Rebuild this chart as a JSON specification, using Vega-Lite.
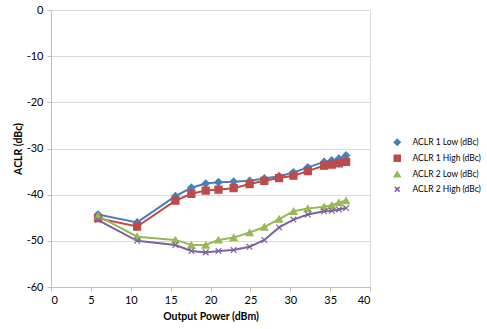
{
  "$schema": "https://vega.github.io/schema/vega-lite/v6.json",
  "width": 319,
  "height": 277,
  "autosize": "none",
  "padding": {"left": 51, "top": 10, "right": 117, "bottom": 42},
  "background": "white",
  "config": {
    "font": "Lato",
    "view": {"stroke": "#d9d9d9", "strokeWidth": 1},
    "axis": {"labelFont": "Lato", "titleFont": "Lato", "labelFontSize": 11, "titleFontSize": 10.5, "labelColor": "#000", "titleColor": "#000", "domainColor": "#bfbfbf", "tickColor": "#bfbfbf", "gridColor": "#d9d9d9"},
    "legend": {"labelFont": "Lato", "labelFontSize": 8.5, "labelColor": "#000", "orient": "none", "legendX": 342, "legendY": 128, "title": null, "symbolSize": 36, "rowPadding": 3, "labelOffset": 11, "symbolStrokeWidth": 1.5}
  },
  "data": {
    "values": [
      {"p": 5.9, "v": -44.3, "s": "ACLR 1 Low (dBc)"},
      {"p": 10.8, "v": -46.0, "s": "ACLR 1 Low (dBc)"},
      {"p": 15.6, "v": -40.3, "s": "ACLR 1 Low (dBc)"},
      {"p": 17.6, "v": -38.5, "s": "ACLR 1 Low (dBc)"},
      {"p": 19.4, "v": -37.6, "s": "ACLR 1 Low (dBc)"},
      {"p": 21.0, "v": -37.3, "s": "ACLR 1 Low (dBc)"},
      {"p": 22.9, "v": -37.2, "s": "ACLR 1 Low (dBc)"},
      {"p": 24.9, "v": -37.0, "s": "ACLR 1 Low (dBc)"},
      {"p": 26.75, "v": -36.5, "s": "ACLR 1 Low (dBc)"},
      {"p": 28.6, "v": -36.0, "s": "ACLR 1 Low (dBc)"},
      {"p": 30.4, "v": -35.2, "s": "ACLR 1 Low (dBc)"},
      {"p": 32.2, "v": -34.1, "s": "ACLR 1 Low (dBc)"},
      {"p": 34.25, "v": -32.9, "s": "ACLR 1 Low (dBc)"},
      {"p": 35.2, "v": -32.6, "s": "ACLR 1 Low (dBc)"},
      {"p": 36.1, "v": -32.2, "s": "ACLR 1 Low (dBc)"},
      {"p": 37.0, "v": -31.5, "s": "ACLR 1 Low (dBc)"},
      {"p": 5.9, "v": -45.1, "s": "ACLR 1 High (dBc)"},
      {"p": 10.8, "v": -46.9, "s": "ACLR 1 High (dBc)"},
      {"p": 15.6, "v": -41.3, "s": "ACLR 1 High (dBc)"},
      {"p": 17.6, "v": -39.8, "s": "ACLR 1 High (dBc)"},
      {"p": 19.4, "v": -39.1, "s": "ACLR 1 High (dBc)"},
      {"p": 21.0, "v": -38.9, "s": "ACLR 1 High (dBc)"},
      {"p": 22.9, "v": -38.6, "s": "ACLR 1 High (dBc)"},
      {"p": 24.9, "v": -37.7, "s": "ACLR 1 High (dBc)"},
      {"p": 26.75, "v": -37.0, "s": "ACLR 1 High (dBc)"},
      {"p": 28.6, "v": -36.4, "s": "ACLR 1 High (dBc)"},
      {"p": 30.4, "v": -35.9, "s": "ACLR 1 High (dBc)"},
      {"p": 32.2, "v": -34.9, "s": "ACLR 1 High (dBc)"},
      {"p": 34.25, "v": -33.7, "s": "ACLR 1 High (dBc)"},
      {"p": 35.2, "v": -33.5, "s": "ACLR 1 High (dBc)"},
      {"p": 36.1, "v": -33.2, "s": "ACLR 1 High (dBc)"},
      {"p": 37.0, "v": -32.9, "s": "ACLR 1 High (dBc)"},
      {"p": 5.9, "v": -44.6, "s": "ACLR 2 Low (dBc)"},
      {"p": 10.8, "v": -49.1, "s": "ACLR 2 Low (dBc)"},
      {"p": 15.6, "v": -49.8, "s": "ACLR 2 Low (dBc)"},
      {"p": 17.6, "v": -50.9, "s": "ACLR 2 Low (dBc)"},
      {"p": 19.4, "v": -50.9, "s": "ACLR 2 Low (dBc)"},
      {"p": 21.0, "v": -49.8, "s": "ACLR 2 Low (dBc)"},
      {"p": 22.9, "v": -49.3, "s": "ACLR 2 Low (dBc)"},
      {"p": 24.9, "v": -48.2, "s": "ACLR 2 Low (dBc)"},
      {"p": 26.75, "v": -47.0, "s": "ACLR 2 Low (dBc)"},
      {"p": 28.6, "v": -45.3, "s": "ACLR 2 Low (dBc)"},
      {"p": 30.4, "v": -43.6, "s": "ACLR 2 Low (dBc)"},
      {"p": 32.2, "v": -43.0, "s": "ACLR 2 Low (dBc)"},
      {"p": 34.25, "v": -42.6, "s": "ACLR 2 Low (dBc)"},
      {"p": 35.2, "v": -42.3, "s": "ACLR 2 Low (dBc)"},
      {"p": 36.1, "v": -41.7, "s": "ACLR 2 Low (dBc)"},
      {"p": 37.0, "v": -41.3, "s": "ACLR 2 Low (dBc)"},
      {"p": 5.9, "v": -45.5, "s": "ACLR 2 High (dBc)"},
      {"p": 10.8, "v": -50.0, "s": "ACLR 2 High (dBc)"},
      {"p": 15.6, "v": -50.9, "s": "ACLR 2 High (dBc)"},
      {"p": 17.6, "v": -52.2, "s": "ACLR 2 High (dBc)"},
      {"p": 19.4, "v": -52.5, "s": "ACLR 2 High (dBc)"},
      {"p": 21.0, "v": -52.2, "s": "ACLR 2 High (dBc)"},
      {"p": 22.9, "v": -52.0, "s": "ACLR 2 High (dBc)"},
      {"p": 24.9, "v": -51.3, "s": "ACLR 2 High (dBc)"},
      {"p": 26.75, "v": -49.8, "s": "ACLR 2 High (dBc)"},
      {"p": 28.6, "v": -47.1, "s": "ACLR 2 High (dBc)"},
      {"p": 30.4, "v": -45.4, "s": "ACLR 2 High (dBc)"},
      {"p": 32.2, "v": -44.3, "s": "ACLR 2 High (dBc)"},
      {"p": 34.25, "v": -43.6, "s": "ACLR 2 High (dBc)"},
      {"p": 35.2, "v": -43.5, "s": "ACLR 2 High (dBc)"},
      {"p": 36.1, "v": -43.2, "s": "ACLR 2 High (dBc)"},
      {"p": 37.0, "v": -42.9, "s": "ACLR 2 High (dBc)"}
    ]
  },
  "encoding": {
    "x": {"field": "p", "type": "quantitative", "scale": {"domain": [0, 40], "nice": false, "zero": false},
      "axis": {"values": [0, 5, 10, 15, 20, 25, 30, 35, 40], "labelExpr": "'' + datum.value", "grid": false, "title": "Output Power (dBm)", "titleFontWeight": "bold", "tickSize": 4, "labelPadding": 3, "titlePadding": 6}},
    "y": {"field": "v", "type": "quantitative", "scale": {"domain": [-60, 0], "nice": false},
      "axis": {"values": [-60, -50, -40, -30, -20, -10, 0], "labelExpr": "'' + datum.value", "grid": true, "title": "ACLR (dBc)", "titleFontWeight": "bold", "tickSize": 4, "labelPadding": 4, "titlePadding": 3}},
    "color": {"field": "s", "type": "nominal",
      "scale": {"domain": ["ACLR 1 Low (dBc)", "ACLR 1 High (dBc)", "ACLR 2 Low (dBc)", "ACLR 2 High (dBc)"], "range": ["#4a7ebb", "#be4b48", "#98b954", "#7d60a0"]}}
  },
  "layer": [
    {"mark": {"type": "line", "strokeWidth": 2}},
    {"mark": {"type": "point", "filled": true, "opacity": 1, "strokeWidth": 1.2},
      "encoding": {
        "stroke": {"field": "s", "type": "nominal",
          "scale": {"domain": ["ACLR 1 Low (dBc)", "ACLR 1 High (dBc)", "ACLR 2 Low (dBc)", "ACLR 2 High (dBc)"], "range": ["#4a7ebb", "#be4b48", "#98b954", "#7d60a0"]}},
        "shape": {"field": "s", "type": "nominal",
          "scale": {"domain": ["ACLR 1 Low (dBc)", "ACLR 1 High (dBc)", "ACLR 2 Low (dBc)", "ACLR 2 High (dBc)"], "range": ["diamond", "square", "triangle-up", "M-0.8,-0.8L0.8,0.8M-0.8,0.8L0.8,-0.8"]}},
        "size": {"value": 50}
      }
    }
  ]
}
